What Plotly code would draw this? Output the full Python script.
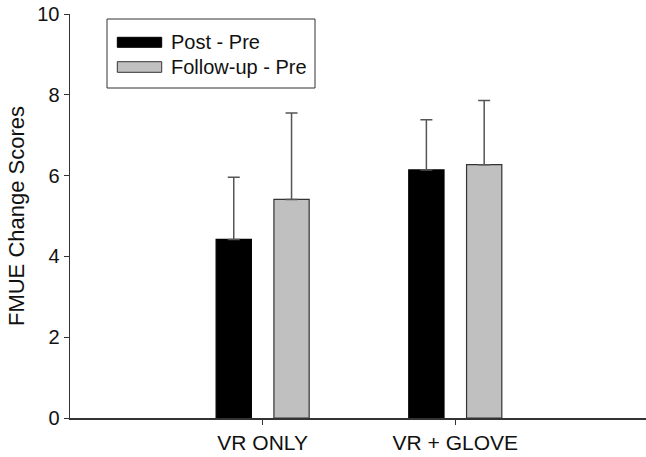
import plotly.graph_objects as go

categories = ["VR ONLY", "VR + GLOVE"]
cat_pos = [1, 2]
series_names = ["Post - Pre", "Follow-up - Pre"]
post_pre = [4.42, 6.14]
post_pre_err = [1.54, 1.24]
follow_pre = [5.41, 6.27]
follow_pre_err = [2.14, 1.59]
y_ticks = [0, 2, 4, 6, 8, 10]

FONT = "Liberation Sans, Arial, sans-serif"
AX = "#333333"
fills = ["#000000", "#c0c0c0"]
edges = ["#000000", "#333333"]

fig = go.Figure()
for name, vals, errs, fc, ec in [
    (series_names[0], post_pre, post_pre_err, fills[0], edges[0]),
    (series_names[1], follow_pre, follow_pre_err, fills[1], edges[1]),
]:
    fig.add_trace(go.Bar(
        x=cat_pos, y=vals, name=name,
        marker=dict(color=fc, line=dict(color=ec, width=1.2)),
        error_y=dict(type="data", symmetric=False, array=errs,
                     arrayminus=[0] * len(errs), color="#555555",
                     thickness=1.5, width=6),
        showlegend=False, hoverinfo="skip",
    ))

fig.update_layout(
    width=646, height=457,
    margin=dict(l=70, r=0, t=14, b=39, autoexpand=False),
    paper_bgcolor="white", plot_bgcolor="white",
    barmode="group", bargap=0.4, bargroupgap=0.39,
    font=dict(family=FONT, size=20, color="#111111"),
    xaxis=dict(range=[0, 2.99], tickmode="array", tickvals=cat_pos,
               ticktext=categories, showgrid=False, zeroline=False,
               showline=True, linecolor=AX, linewidth=1.5,
               ticks="outside", ticklen=5, tickcolor=AX, tickwidth=1,
               tickfont=dict(size=21), automargin=False),
    yaxis=dict(range=[0, 10], tickvals=y_ticks, showgrid=False,
               zeroline=False, showline=True, linecolor=AX, linewidth=1.5,
               ticks="outside", ticklen=5, tickcolor=AX, tickwidth=1,
               tickfont=dict(size=20), automargin=False,
               title=dict(text="FMUE Change Scores", font=dict(size=22),
                          standoff=6)),
)

# legend box drawn manually (paper coordinates)
def px_x(p):
    return (p - 70) / 576.0

def px_y(p):
    return (418 - p) / 404.0

fig.add_shape(type="rect", xref="paper", yref="paper",
              x0=px_x(107), x1=px_x(315), y0=px_y(88), y1=px_y(19),
              line=dict(color="#333333", width=1), fillcolor="white")
rows = [(37.3, 47.3, 42), (61.7, 72.3, 67)]
for (top, bot, mid), name, fc, ec in zip(rows, series_names, fills, edges):
    fig.add_shape(type="rect", xref="paper", yref="paper",
                  x0=px_x(117.3), x1=px_x(161.7), y0=px_y(bot), y1=px_y(top),
                  line=dict(color=ec, width=1), fillcolor=fc)
    fig.add_annotation(xref="paper", yref="paper", x=px_x(169), y=px_y(mid),
                       text=name, showarrow=False, xanchor="left",
                       yanchor="middle", font=dict(size=20, color="#111111"))

fig.write_html("out.html",
               config={"displayModeBar": False, "staticPlot": True},
               post_script="document.body.style.margin='0';"
                           "document.body.style.overflow='hidden';")
